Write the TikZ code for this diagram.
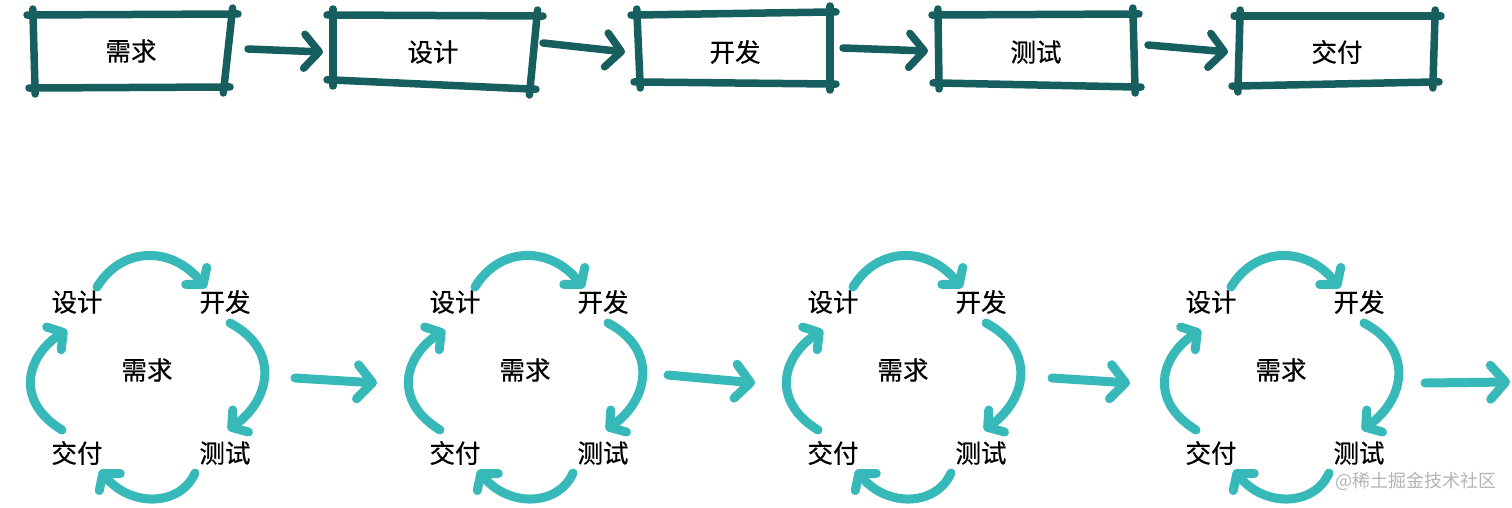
\documentclass[tikz,border=0pt]{standalone}
\usepackage{fontspec}
\newfontfamily\cjk[FakeBold=0.5]{Noto Sans CJK SC}
\newfontfamily\cjkwm{Noto Sans CJK SC}
\usetikzlibrary{arrows.meta,calc}
\definecolor{boxc}{HTML}{175F5F}
\definecolor{cycc}{HTML}{37B9B9}
\definecolor{wmc}{HTML}{B4B4B4}
\newcommand\skbox[4]{%
  \draw[boxline] ($(#1)!-6pt!(#2)$) -- ($(#2)!-6pt!(#1)$);
  \draw[boxline] ($(#2)!-6pt!(#3)$) -- ($(#3)!-6pt!(#2)$);
  \draw[boxline] ($(#3)!-6pt!(#4)$) -- ($(#4)!-6pt!(#3)$);
  \draw[boxline] ($(#4)!-6pt!(#1)$) -- ($(#1)!-6pt!(#4)$);
}
\begin{document}
\begin{tikzpicture}[x=1pt,y=-1pt,
  boxline/.style={draw=boxc, line width=7.5pt, line cap=round},
  lbl/.style={font=\cjk\fontsize{25.5}{25.5}\selectfont, inner sep=0pt},
  toparrow/.style={draw=boxc, line width=7.5pt, line cap=round,
    -{Straight Barb[length=15pt,width=34pt,round]}},
  cycarrow/.style={draw=cycc, line width=9pt, line cap=round,
    -{Straight Barb[length=11pt,width=27pt,round]}},
  grparrow/.style={draw=cycc, line width=9pt, line cap=round,
    -{Straight Barb[length=15pt,width=34pt,round]}},
  wmark/.style={font=\cjkwm\fontsize{18}{18}\selectfont, text=wmc, inner sep=0pt}
]
\useasboundingbox (0,0) rectangle (1512,508);

% ---- top row: waterfall
\skbox{33,15}{232,14}{224,87}{35,88}
\skbox{333,15}{537,16}{530,89}{333,80}
\skbox{637,15}{830,12}{830,84}{640,82}
\skbox{938,15}{1133,14}{1135,87}{939,83}
\skbox{1240,16}{1435,16}{1433,82}{1238,86}

\node[lbl] (t1) at (131,51) {需求};
\node[lbl] (t2) at (433,52) {设计};
\node[lbl] (t3) at (735,52) {开发};
\node[lbl] (t4) at (1036,52) {测试};
\node[lbl] (t5) at (1337,52) {交付};

\coordinate (a1s) at (248,49);  \coordinate (a1e) at (323,52);
\coordinate (a2s) at (543,43);  \coordinate (a2e) at (625,52);
\coordinate (a3s) at (843,48);  \coordinate (a3e) at (928,51);
\coordinate (a4s) at (1148,45); \coordinate (a4e) at (1228,52);
\draw[toparrow] (a1s) -- (a1e);
\draw[toparrow] (a2s) -- (a2e);
\draw[toparrow] (a3s) -- (a3e);
\draw[toparrow] (a4s) -- (a4e);

% ---- bottom row: iterations
\foreach \g/\dx in {1/0,2/378,3/756,4/1134}{
  \begin{scope}[shift={(\dx,0)}]
    \node[lbl] (sj\g) at (77,302) {设计};
    \node[lbl] (kf\g) at (225,302) {开发};
    \node[lbl] (xq\g) at (147,370) {需求};
    \node[lbl] (jf\g) at (77,453) {交付};
    \node[lbl] (cs\g) at (225,453) {测试};
    \draw[cycarrow] ([shift={(20,-15)}]sj\g.center) .. controls (122,246) and (172,246) .. ([shift={(-19,-14)}]kf\g.center);
    \draw[cycarrow] ([shift={(5,21)}]kf\g.center) .. controls (281,350) and (270,400) .. ([shift={(3,-23)}]cs\g.center);
    \draw[cycarrow] ([shift={(-30,20)}]cs\g.center) .. controls (180,507) and (130,507) .. ([shift={(23,17)}]jf\g.center);
    \draw[cycarrow] ([shift={(-15,-23)}]jf\g.center) .. controls (13,400) and (28,355) .. ([shift={(-10,28)}]sj\g.center);
  \end{scope}
}

\coordinate (g1s) at (295,378);  \coordinate (g1e) at (377,383);
\coordinate (g2s) at (668,375);  \coordinate (g2e) at (755,383);
\coordinate (g3s) at (1052,378); \coordinate (g3e) at (1130,383);
\coordinate (g4s) at (1425,383); \coordinate (g4e) at (1510,382);
\draw[grparrow] (g1s) -- (g1e);
\draw[grparrow] (g2s) -- (g2e);
\draw[grparrow] (g3s) -- (g3e);
\draw[grparrow] (g4s) -- (g4e);

\node[wmark, anchor=west] (wm) at (1335,481) {@稀土掘金技术社区};
\end{tikzpicture}
\end{document}
